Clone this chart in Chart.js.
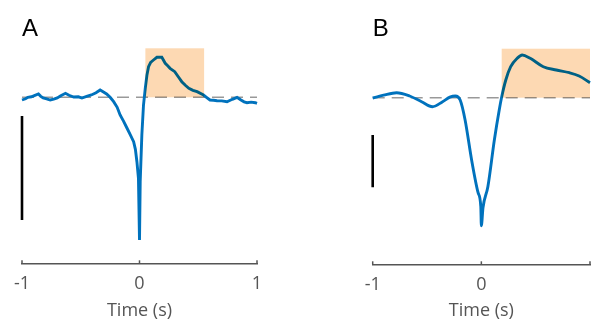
<!DOCTYPE html>
<html>
<head>
<meta charset="utf-8">
<script src="https://cdn.jsdelivr.net/npm/chart.js@4"></script>
<style>
  html, body { margin: 0; padding: 0; background: #fff; }
  .panel { position: absolute; top: 0; width: 300px; height: 322px; }
</style>
</head>
<body>
<div class="panel" style="left:0"><canvas id="chartA"></canvas></div>
<div class="panel" style="left:300px"><canvas id="chartB"></canvas></div>
<script>
// Panel A – time (s) and response (a.u., baseline = 0)
const timeA = [-1.0, -0.97, -0.95, -0.92, -0.89, -0.86, -0.84, -0.82, -0.79, -0.76, -0.73, -0.70, -0.67, -0.63, -0.60,
  -0.56, -0.52, -0.49, -0.45, -0.41, -0.37, -0.335, -0.31, -0.28, -0.25, -0.22, -0.19, -0.165, -0.135, -0.107, -0.08,
  -0.05, -0.035, -0.022, -0.009, 0.0, 0.006, 0.02, 0.034, 0.049, 0.063, 0.077, 0.095, 0.119, 0.148, 0.19, 0.219, 0.24,
  0.26, 0.30, 0.33, 0.36, 0.39, 0.42, 0.455, 0.49, 0.545, 0.57, 0.60, 0.63, 0.66, 0.70, 0.745, 0.79, 0.83, 0.86, 0.89,
  0.915, 0.95, 0.986, 1.0];
const valueA = [-2.7, -1.5, 0, 0.5, 2, 3.3, 1, -0.7, -1.5, -2.7, -1.8, -0.7, 1.5, 4, 2,
  0.3, 0.5, -0.7, 1, 2.3, 4.5, 7.3, 5.5, 3.3, 0, -4.4, -10, -17.7, -24, -30.7, -37,
  -44.4, -52, -64.4, -80.7, -142.7, -84.4, -37.7, -7.7, 9, 22, 30.6, 35, 37.3, 40, 40, 34, 31.5,
  29, 25.6, 20.5, 15.6, 12, 9, 7, 5.6, 2.3, 0, -2.7, -3, -3.4, -3.6, -4.4, -2, 0, -2.5, -4.5,
  -5.4, -4.8, -5.4, -6];

// Panel B
const timeB = [-1.0, -0.9, -0.78, -0.66, -0.55, -0.45, -0.36, -0.29, -0.24, -0.195, -0.15, -0.09, -0.03, -0.005, 0.0,
  0.015, 0.06, 0.12, 0.165, 0.187, 0.225, 0.27, 0.33, 0.376, 0.45, 0.57, 0.69, 0.81, 0.90, 1.0];
const valueB = [-0.3, 2.5, 5, 1.7, -4, -9, -4.3, 0.5, 1.7, -2.3, -22, -62, -95, -109, -128,
  -110, -89, -42, -12, 0.7, 17.7, 31, 39.4, 42.7, 39.4, 31, 27.7, 25, 21.7, 15];

const xTicks = [-1, 0, 1];
const windowA = [0.05, 0.55];
const windowB = [0.187, 1.0];
const windowTop = 49;
const scaleBarA = [-18.7, -122.7];
const scaleBarB = [-37.3, -89.6];

const blue = '#0072bd';
const axisGrey = '#555';

// shaded response window, multiplied over the trace
const windowPlugin = {
  id: 'windowPlugin',
  afterDatasetsDraw(chart, args, opts) {
    const {ctx, scales: {x, y}} = chart;
    const x0 = x.getPixelForValue(opts.from);
    const x1 = x.getPixelForValue(opts.to);
    const y0 = y.getPixelForValue(windowTop);
    const y1 = y.getPixelForValue(0);
    ctx.save();
    ctx.globalCompositeOperation = 'multiply';
    ctx.fillStyle = '#fdd9b3';
    ctx.fillRect(x0, y0, x1 - x0, y1 - y0);
    ctx.restore();
  }
};

// small tick marks pointing inward (MATLAB style)
const innerTicks = {
  id: 'innerTicks',
  afterDraw(chart) {
    const {ctx, scales: {x}} = chart;
    ctx.save();
    ctx.strokeStyle = axisGrey;
    ctx.lineWidth = 1.5;
    x.ticks.forEach(t => {
      const px = x.getPixelForValue(t.value);
      ctx.beginPath();
      ctx.moveTo(px, x.top);
      ctx.lineTo(px, x.top - 3);
      ctx.stroke();
    });
    ctx.restore();
  }
};

function drawPanel(id, letter, times, values, win, bar, p) {
  new Chart(document.getElementById(id), {
    type: 'line',
    data: {
      datasets: [
        {
          data: times.map((t, i) => ({x: t, y: values[i]})),
          borderColor: blue,
          borderWidth: 2.9,
          pointRadius: 0,
          tension: p.tension,
          cubicInterpolationMode: p.tension ? 'monotone' : 'default'
        },
        {
          data: [{x: -1, y: 0}, {x: 1, y: 0}],
          borderColor: '#999',
          borderWidth: 1.4,
          borderDash: [12, 7],
          pointRadius: 0
        },
        {
          data: [{x: -1, y: bar[0]}, {x: -1, y: bar[1]}],
          borderColor: '#000',
          borderWidth: 2.6,
          pointRadius: 0
        }
      ]
    },
    options: {
      responsive: true,
      maintainAspectRatio: false,
      animation: false,
      clip: false,
      layout: { padding: { left: p.left, right: p.right, top: 5, bottom: 0 } },
      plugins: {
        legend: { display: false },
        tooltip: { enabled: false },
        title: {
          display: true,
          text: letter,
          align: 'start',
          color: '#000',
          font: { family: 'Liberation Sans', size: 24, weight: 'normal' },
          padding: { top: 10, bottom: 0 }
        },
        windowPlugin: { from: win[0], to: win[1] }
      },
      scales: {
        x: {
          type: 'linear',
          min: -1,
          max: 1,
          afterBuildTicks: s => { s.ticks = xTicks.map(v => ({value: v})); },
          afterFit: s => { s.height = p.axisHeight; },
          grid: { display: false, drawTicks: false },
          border: { display: true, color: axisGrey, width: 1.5 },
          ticks: {
            padding: 10,
            color: axisGrey,
            font: { family: 'Open Sans', size: 18 },
            callback: v => (p.hideLast && v === 1) ? '' : String(v)
          },
          title: {
            display: true,
            text: 'Time (s)',
            color: axisGrey,
            font: { family: 'Open Sans', size: 18 },
            padding: 0
          }
        },
        y: { display: false, min: p.yMin, max: p.yMax }
      }
    },
    plugins: [windowPlugin, innerTicks]
  });
}

drawPanel('chartA', 'A', timeA, valueA, windowA, scaleBarA,
  { left: 22, right: 43, axisHeight: 58.7, yMin: -166, yMax: 53.5, tension: 0, hideLast: false });
drawPanel('chartB', 'B', timeB, valueB, windowB, scaleBarB,
  { left: 72.7, right: 6, axisHeight: 57.7, yMin: -166.6, yMax: 53.9, tension: 0.4, hideLast: true });
</script>
</body>
</html>
